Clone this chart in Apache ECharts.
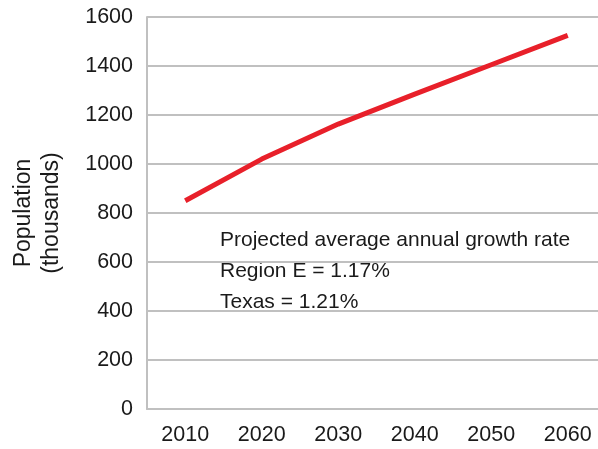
<!DOCTYPE html>
<html>
<head>
<meta charset="utf-8">
<script src="https://cdn.jsdelivr.net/npm/echarts@6/dist/echarts.min.js"></script>
<style>
    html, body { margin: 0; padding: 0; background: #fff; }
    #chart { width: 598px; height: 449px; }
</style>
</head>
<body>
<div id="chart"></div>
<script>
// 年份（x轴）
var years = ['2010', '2020', '2030', '2040', '2050', '2060'];
// 人口（千人）
var population = [850, 1020, 1163, 1285, 1405, 1525];
// y轴刻度
var yMin = 0;
var yMax = 1600;
var yStep = 200;
// 注释文字
var noteLines = [
    'Projected average annual growth rate',
    'Region E = 1.17%',
    'Texas = 1.21%'
];

var font = 'Liberation Sans, Arial, sans-serif';
var gray = '#c0c0c0';

var myChart = echarts.init(document.getElementById('chart'));

var option = {
    animation: false,
    grid: {
        left: 147,
        top: 17,
        right: -8,
        bottom: 40,
        containLabel: false,
        outerBoundsMode: 'none'
    },
    xAxis: {
        type: 'category',
        data: years,
        boundaryGap: true,
        axisLine: { lineStyle: { color: gray, width: 2 } },
        axisTick: { alignWithLabel: true, length: 6, lineStyle: { color: gray, width: 2 } },
        axisLabel: { color: '#1a1a1a', fontSize: 21.5, fontFamily: font, margin: 15 },
        splitLine: { show: false }
    },
    yAxis: {
        type: 'value',
        min: yMin,
        max: yMax,
        interval: yStep,
        name: 'Population\n(thousands)',
        nameLocation: 'middle',
        nameRotate: 90,
        nameGap: 81,
        nameTextStyle: { color: '#1a1a1a', fontSize: 23, fontFamily: font, lineHeight: 28 },
        axisLine: { show: true, lineStyle: { color: gray, width: 2 } },
        axisTick: { show: false },
        axisLabel: {
            color: '#1a1a1a', fontSize: 21.5, fontFamily: font, margin: 14,
            formatter: function (v) { return String(v); }
        },
        splitLine: { lineStyle: { color: gray, width: 2 } }
    },
    graphic: noteLines.map(function (txt, i) {
        return {
            type: 'text',
            left: 220,
            top: 230 + i * 31,
            style: { text: txt, fill: '#1a1a1a', fontSize: 21, fontFamily: font }
        };
    }),
    series: [{
        type: 'line',
        data: population,
        showSymbol: false,
        symbol: 'none',
        lineStyle: { color: '#e8202a', width: 5, cap: 'butt' }
    }]
};

myChart.setOption(option);
</script>
</body>
</html>
